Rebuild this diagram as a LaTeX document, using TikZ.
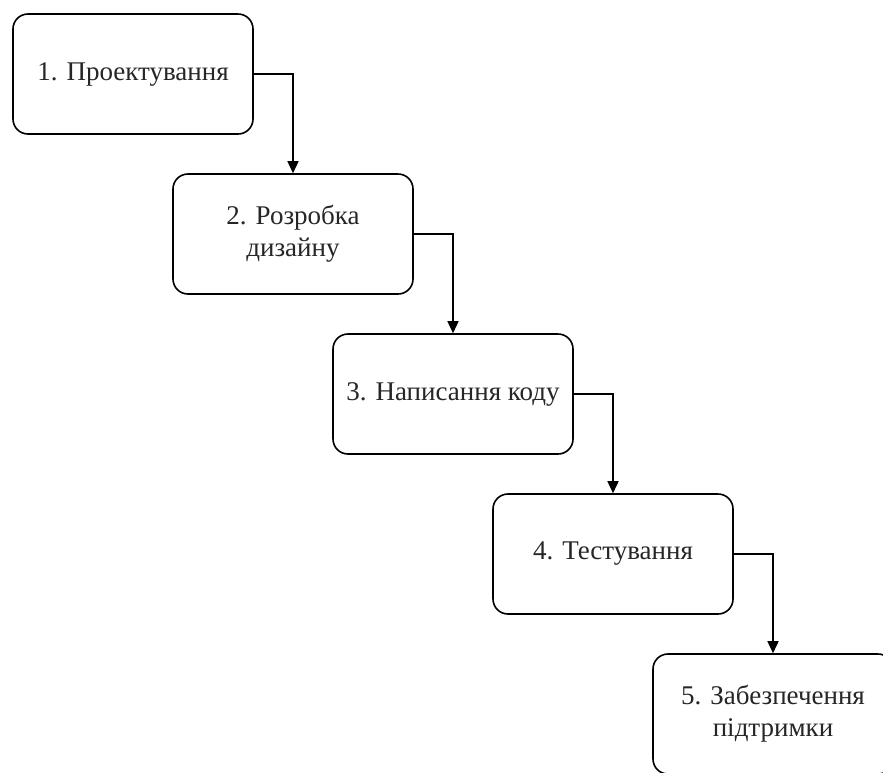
\documentclass[tikz,border=0pt]{standalone}
\usepackage{fontspec}
\setmainfont{Liberation Serif}
\usetikzlibrary{arrows.meta}
\begin{document}
\begin{tikzpicture}[x=1pt,y=-1pt,
  stage/.style={draw=black, line width=1.6pt, rounded corners=15pt, minimum width=240pt, minimum height=120pt, align=center, font=\fontsize{27}{32}\selectfont, text=black!85, inner sep=0pt},
  link/.style={draw=black, line width=1.6pt, -{Triangle[length=12pt,width=11pt]}}]
\clip (0,0) rectangle (883,772);
\fill[white] (0,0) rectangle (883,772);
\node[stage] (s1) at (133,74) {1. Проектування};
\node[stage] (s2) at (293,234) {2. Розробка\\дизайну};
\node[stage] (s3) at (453,394) {3. Написання коду};
\node[stage] (s4) at (613,554) {4. Тестування};
\node[stage] (s5) at (773,714) {5. Забезпечення\\підтримки};
\draw[link] (s1.east) -| (s2.north);
\draw[link] (s2.east) -| (s3.north);
\draw[link] (s3.east) -| (s4.north);
\draw[link] (s4.east) -| (s5.north);
\end{tikzpicture}
\end{document}
